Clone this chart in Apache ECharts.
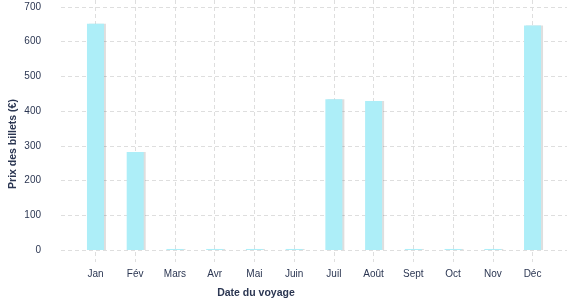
<!DOCTYPE html>
<html><head><meta charset="utf-8">
<script src="https://cdn.jsdelivr.net/npm/echarts@6/dist/echarts.min.js"></script>
<style>html,body{margin:0;padding:0;background:#fff}#c{width:577px;height:300px}</style>
</head><body><div id="c"></div>
<script>
const categories = ['Jan','Fév','Mars','Avr','Mai','Juin','Juil','Août','Sept','Oct','Nov','Déc'];
const prices = [652, 282, 3, 3, 3, 3, 434, 429, 3, 3, 3, 647];
const yTicks = [0, 100, 200, 300, 400, 500, 600, 700];
const xTitle = 'Date du voyage';
const yTitle = 'Prix des billets (€)';

const txt = '#2b3652';
const gridCol = '#dedede';
const font = 'Liberation Sans';
const chart = echarts.init(document.getElementById('c'), null, {renderer: 'canvas'});
chart.setOption({
  animation: false,
  grid: [
    {left: 61, right: 10, top: 7, bottom: 50},
    {left: 75.6, right: 24.6, top: 7, bottom: 50},
    {left: 75.6, right: 24.6, top: 0, bottom: 38}
  ],
  xAxis: [
    {gridIndex: 0, type: 'value', show: false, min: 0, max: 1},
    {gridIndex: 1, type: 'category', data: categories,
      axisLine: {show: false}, axisTick: {show: false}, splitLine: {show: false},
      axisLabel: {color: txt, fontFamily: font, fontSize: 10, margin: 19}},
    {gridIndex: 2, type: 'category', data: categories,
      axisLine: {show: false}, axisTick: {show: false}, axisLabel: {show: false},
      splitLine: {show: true, alignWithLabel: true, lineStyle: {color: gridCol, type: [4, 3], width: 1}}}
  ],
  yAxis: [
    {gridIndex: 0, type: 'value', min: 0, max: 700, interval: 100,
      axisLine: {show: false}, axisTick: {show: false},
      axisLabel: {color: txt, fontFamily: font, fontSize: 10, margin: 20,
        formatter: v => yTicks.includes(v) ? String(v) : ''},
      splitLine: {show: true, lineStyle: {color: gridCol, type: [4, 3], width: 1}}},
    {gridIndex: 1, type: 'value', min: 0, max: 700, show: false, splitLine: {show: false}},
    {gridIndex: 2, type: 'value', min: 0, max: 1, show: false, splitLine: {show: false}}
  ],
  series: [{
    type: 'bar', xAxisIndex: 1, yAxisIndex: 1, data: prices, barWidth: 17,
    itemStyle: {color: '#adeef8', shadowColor: 'rgba(0,0,0,0.13)', shadowOffsetX: 2, shadowOffsetY: 0, shadowBlur: 0}
  }],
  graphic: [
    {type: 'text', x: 256, y: 293, style: {text: xTitle, fill: txt, font: 'bold 10.5px "Liberation Sans"', textAlign: 'center', textVerticalAlign: 'middle'}},
    {type: 'text', x: 13, y: 144, rotation: Math.PI / 2, style: {text: yTitle, fill: txt, font: 'bold 10.5px "Liberation Sans"', textAlign: 'center', textVerticalAlign: 'middle'}}
  ]
});
</script></body></html>
